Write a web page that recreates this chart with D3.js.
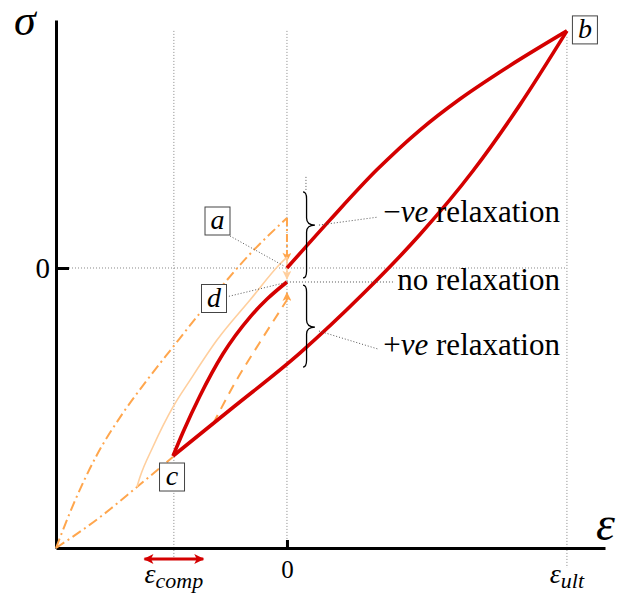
<!DOCTYPE html>
<html>
<head>
<meta charset="utf-8">
<script src="https://cdn.jsdelivr.net/npm/d3@7"></script>
<style>
  body { margin: 0; background: #fff; }
  svg { display: block; }
  text { font-family: "Liberation Serif", "DejaVu Serif", serif; fill: #000; }
</style>
</head>
<body>
<div class="canvas"></div>
<script>
// strain in units of eps_ult, stress in units of the stress at b
const epsMin = -0.825, epsMax = 1.136;
const sigMin = -1.181, sigMax = 1.046;
const epsComp = -0.404;
const epsUlt = 1;

// red cycle: a -> b (loading), b -> c (unloading), c -> d (reloading)
const loadEps = [0, 0.154, 0.321, 0.475, 0.618, 0.761, 1];
const loadSig = [0, 0.203, 0.414, 0.582, 0.713, 0.827, 1];
const unloadEps = [1, 0.832, 0.664, 0.475, 0.271, 0.046, -0.204, -0.407];
const unloadSig = [1, 0.688, 0.409, 0.141, -0.110, -0.359, -0.599, -0.793];
const reloadEps = [-0.407, -0.371, -0.311, -0.229, -0.132, -0.071, 0];
const reloadSig = [-0.793, -0.692, -0.540, -0.363, -0.207, -0.131, -0.059];

// orange paths
const outerEps = [-0.825, -0.764, -0.679, -0.586, -0.5, -0.407, -0.311, -0.132, 0];
const outerSig = [-1.181, -1.000, -0.789, -0.612, -0.473, -0.333, -0.190, 0.059, 0.211];
const outerDrop = 0.03;
const baseEps = [-0.825, -0.668, -0.536, -0.407];
const baseSig = [-1.181, -1.051, -0.924, -0.797];
const paleEps = [-0.536, -0.525, -0.479, -0.407, -0.346, -0.25, -0.132, -0.025, 0];
const paleSig = [-0.924, -0.882, -0.755, -0.586, -0.473, -0.304, -0.135, 0.017, 0.046];
const paleDrop = -0.046;
const dashEps = [-0.264, -0.186, -0.096, 0];
const dashSig = [-0.658, -0.485, -0.312, -0.135];
const dashRise = -0.105;

const W = 618, H = 594;
const RED = '#d40000', ORANGE = '#ffa64d', PALE = '#ffcf9e', GUIDE = '#888';

const svg = d3.select('.canvas').append('svg')
  .attr('width', W)
  .attr('height', H);

const x = d3.scaleLinear().domain([epsMin, epsMax]).range([56, 605]);
const y = d3.scaleLinear().domain([sigMin, sigMax]).range([548, 20]);

const zip = (xs, ys) => xs.map((v, i) => [v, ys[i]]);
const curve = d3.line().x(d => x(d[0])).y(d => y(d[1])).curve(d3.curveMonotoneX);
const straight = d3.line().x(d => x(d[0])).y(d => y(d[1]));

const defs = svg.append('defs');
const marker = (id, color, w, h) => defs.append('marker')
  .attr('id', id)
  .attr('viewBox', '0 0 10 10')
  .attr('refX', 9).attr('refY', 5)
  .attr('markerWidth', w).attr('markerHeight', h)
  .attr('markerUnits', 'userSpaceOnUse')
  .attr('orient', 'auto-start-reverse')
  .append('path')
  .attr('d', 'M0,0 L10,5 L0,10 L2.5,5 Z')
  .attr('fill', color);
marker('arrOrange', ORANGE, 11, 9);
marker('arrPale', PALE, 11, 9);
marker('arrRed', RED, 13, 10);

// dotted guides
const guides = svg.append('g')
  .attr('stroke', GUIDE)
  .attr('stroke-width', 1)
  .attr('stroke-dasharray', '1,2')
  .attr('fill', 'none');
guides.append('line').attr('x1', x(epsComp)).attr('x2', x(epsComp)).attr('y1', y(1)).attr('y2', y(sigMin) + 12);
guides.append('line').attr('x1', x(0)).attr('x2', x(0)).attr('y1', y(1)).attr('y2', y(sigMin));
guides.append('line').attr('x1', x(epsUlt)).attr('x2', x(epsUlt)).attr('y1', y(1) + 6).attr('y2', y(sigMin) + 20);
guides.append('line').attr('x1', x(epsMin) + 13).attr('x2', x(epsUlt)).attr('y1', y(0)).attr('y2', y(0));

// axes
const yAxis = d3.axisLeft(y).tickValues([0]).tickSize(-13).tickSizeOuter(0).tickPadding(6).tickFormat(d3.format('d'));
const xAxis = d3.axisBottom(x).tickValues([0]).tickSize(-8).tickSizeOuter(0).tickPadding(12).tickFormat(d3.format('d'));

const gy = svg.append('g').attr('transform', `translate(${x(epsMin)},0)`).call(yAxis);
const gx = svg.append('g').attr('transform', `translate(0,${y(sigMin)})`).call(xAxis);
[gy, gx].forEach(g => {
  g.select('.domain').attr('stroke', '#000').attr('stroke-width', 3);
  g.selectAll('.tick line').attr('stroke', '#000').attr('stroke-width', 3);
  g.selectAll('.tick text').attr('fill', '#000');
});
gy.selectAll('.tick text').attr('font-size', 29);
gx.selectAll('.tick text').attr('font-size', 25);

svg.append('text').attr('x', 14).attr('y', 35)
  .attr('font-size', 44).attr('font-style', 'italic').text('σ');
svg.append('text').attr('x', 596).attr('y', 540)
  .attr('font-size', 48).attr('font-style', 'italic').text('ε');

const subLabel = (ex, sub) => {
  const t = svg.append('text')
    .attr('x', x(ex)).attr('y', y(sigMin) + 35)
    .attr('text-anchor', 'middle')
    .attr('font-style', 'italic');
  t.append('tspan').attr('font-size', 28).text('ε');
  t.append('tspan').attr('font-size', 22).attr('dy', 5).text(sub);
};
subLabel(epsComp, 'comp');
subLabel(epsUlt, 'ult');

// red double arrow under eps_comp
svg.append('line')
  .attr('x1', x(epsComp - 0.105)).attr('x2', x(epsComp + 0.105))
  .attr('y1', y(sigMin) + 11).attr('y2', y(sigMin) + 11)
  .attr('stroke', RED).attr('stroke-width', 3)
  .attr('marker-start', 'url(#arrRed)')
  .attr('marker-end', 'url(#arrRed)');

// orange history
const orange = svg.append('g').attr('fill', 'none').attr('stroke-linecap', 'butt');
orange.append('path')
  .attr('d', curve(zip(outerEps, outerSig)))
  .attr('stroke', ORANGE).attr('stroke-width', 2)
  .attr('stroke-dasharray', '10,4,2,4');
orange.append('path')
  .attr('d', straight([[0, outerSig[outerSig.length - 1]], [0, outerDrop]]))
  .attr('stroke', ORANGE).attr('stroke-width', 2)
  .attr('stroke-dasharray', '8,3,2,3')
  .attr('marker-end', 'url(#arrOrange)');
orange.append('path')
  .attr('d', curve(zip(baseEps, baseSig)))
  .attr('stroke', ORANGE).attr('stroke-width', 2)
  .attr('stroke-dasharray', '10,4,2,4');
orange.append('path')
  .attr('d', curve(zip(paleEps, paleSig)))
  .attr('stroke', PALE).attr('stroke-width', 1.6);
orange.append('path')
  .attr('d', straight([[0, paleSig[paleSig.length - 1]], [0, paleDrop]]))
  .attr('stroke', PALE).attr('stroke-width', 1.6)
  .attr('marker-end', 'url(#arrPale)');
orange.append('path')
  .attr('d', curve(zip(dashEps, dashSig)))
  .attr('stroke', ORANGE).attr('stroke-width', 2)
  .attr('stroke-dasharray', '10,7');
orange.append('path')
  .attr('d', straight([[0, dashSig[dashSig.length - 1]], [0, dashRise]]))
  .attr('stroke', ORANGE).attr('stroke-width', 2)
  .attr('marker-end', 'url(#arrOrange)');

// red cycle
const red = svg.append('g')
  .attr('fill', 'none')
  .attr('stroke', RED)
  .attr('stroke-width', 3.6)
  .attr('stroke-linejoin', 'miter');
red.append('path').attr('d', curve(zip(loadEps, loadSig)));
red.append('path').attr('d', curve(zip(unloadEps.slice().reverse(), unloadSig.slice().reverse())));
red.append('path').attr('d', curve(zip(reloadEps, reloadSig)));

// braces and leaders
const brace = (bx, y1, ym, y2, w) => {
  const c = bx + w * 0.3, r = 7;
  return `M${bx},${y1} Q${c},${y1} ${c},${y1 + r} L${c},${ym - r} Q${c},${ym} ${bx + w},${ym}` +
    ` Q${c},${ym} ${c},${ym + r} L${c},${y2 - r} Q${c},${y2} ${bx},${y2}`;
};
const bx = x(0) + 16;
svg.append('path')
  .attr('d', brace(bx, y(0.321), y(0.181), y(-0.042), 12))
  .attr('fill', 'none').attr('stroke', '#000').attr('stroke-width', 1.3);
svg.append('path')
  .attr('d', brace(bx, y(-0.072), y(-0.249), y(-0.418), 12))
  .attr('fill', 'none').attr('stroke', '#000').attr('stroke-width', 1.3);

const leaders = svg.append('g')
  .attr('stroke', '#555')
  .attr('stroke-width', 1)
  .attr('stroke-dasharray', '1,2')
  .attr('fill', 'none');
const leader = (x1, y1, x2, y2) => leaders.append('line')
  .attr('x1', x1).attr('y1', y1).attr('x2', x2).attr('y2', y2);
leader(bx + 3, y(0.321) - 15, bx + 3, y(0.321) - 2);
leader(bx + 16, y(0.181), 378, y(0.181) - 8);
leader(bx + 16, y(-0.249) + 4, 378, y(-0.249) + 22);
leader(x(0), y(-0.059), 395, y(-0.059));
leader(230, 236, x(0) - 3, y(0) - 2);
leader(226, 297, x(0) - 3, y(-0.059) + 1);

const relax = (yy, sign) => {
  const t = svg.append('text')
    .attr('x', 560).attr('y', yy)
    .attr('text-anchor', 'end')
    .attr('font-size', 31);
  if (sign) {
    t.append('tspan').text(sign);
    t.append('tspan').attr('font-style', 'italic').text('ve');
    t.append('tspan').text(' relaxation');
  } else {
    t.text('no relaxation');
  }
};
relax(y(0.181) - 3, '−');
relax(y(-0.059) + 8, null);
relax(y(-0.249) + 28, '+');

// point labels
const boxLabel = (cx, cy, label) => {
  svg.append('rect')
    .attr('x', cx - 12.5).attr('y', cy - 14)
    .attr('width', 25).attr('height', 28)
    .attr('fill', '#fff').attr('stroke', '#444').attr('stroke-width', 1);
  svg.append('text')
    .attr('x', cx).attr('y', cy + 8)
    .attr('text-anchor', 'middle')
    .attr('font-size', 28).attr('font-style', 'italic')
    .text(label);
};
boxLabel(217.5, 221, 'a');
boxLabel(x(epsUlt) + 18, y(1) - 1, 'b');
boxLabel(x(unloadEps[unloadEps.length - 1]) - 1, y(unloadSig[unloadSig.length - 1]) + 21, 'c');
boxLabel(214, 298.5, 'd');
</script>
</body>
</html>
